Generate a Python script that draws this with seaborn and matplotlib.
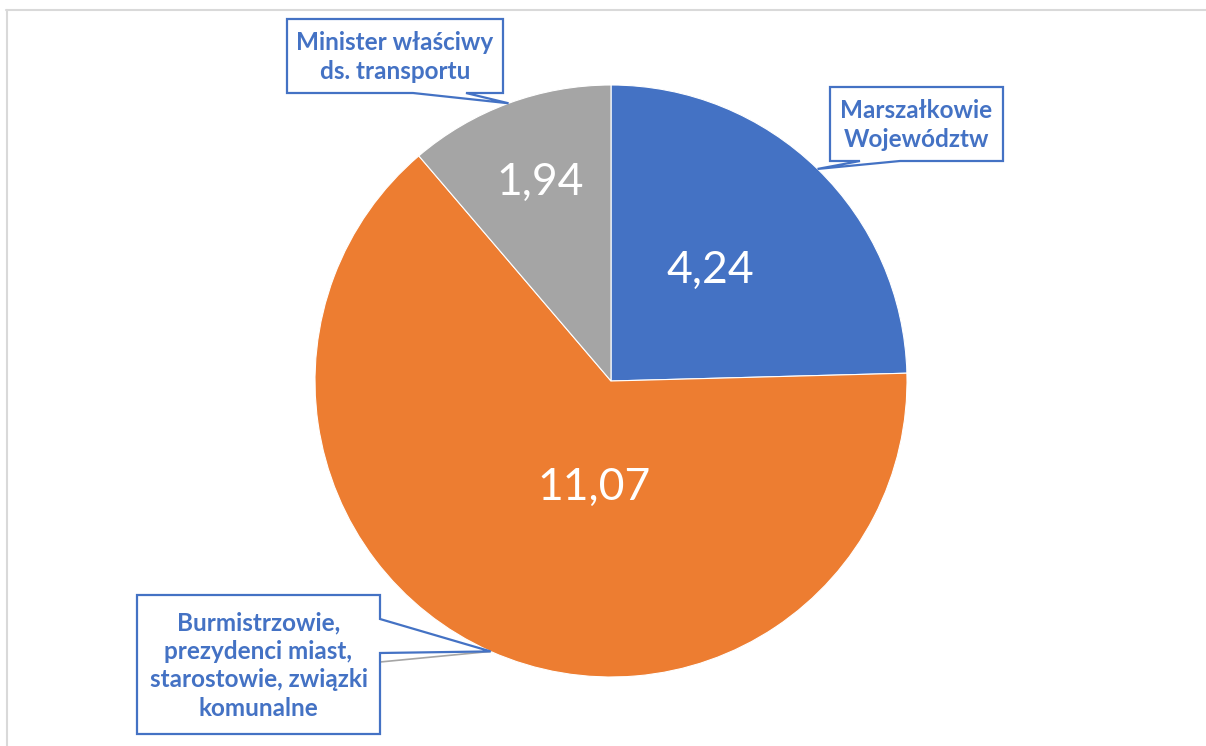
import numpy as np
import matplotlib
matplotlib.use("Agg")
import matplotlib.pyplot as plt
from matplotlib.patches import Polygon
from matplotlib.lines import Line2D
import seaborn as sns

# ---- data ----
categories = ["Marszałkowie\nWojewództw",
              "Burmistrzowie,\nprezydenci miast,\nstarostowie, związki\nkomunalne",
              "Minister właściwy\nds. transportu"]
values = [4.24, 11.07, 1.94]
colors = ["#4472C4", "#ED7D31", "#A5A5A5"]

sns.set_theme(style="white")
plt.rcParams['font.family'] = ['Lato', 'DejaVu Sans']

W, H = 1206, 746
fig = plt.figure(figsize=(W / 100, H / 100), dpi=100)
ax = fig.add_axes([0, 0, 1, 1])

def Y(y):
    return H - y

cx, cy, R = 611, 381, 296
wedges, _ = ax.pie(values, colors=colors, startangle=90, counterclock=False,
                   center=(cx, Y(cy)), radius=R,
                   wedgeprops=dict(edgecolor="white", linewidth=0.8))
ax.set_xlim(0, W)
ax.set_ylim(0, H)
ax.set_aspect("equal")
ax.axis("off")

# value labels (pixel positions of label centres)
value_pos = [(710, 270), (594, 487), (540, 182)]
for v, (x, y) in zip(values, value_pos):
    ax.text(x, Y(y), f"{v:.2f}".replace(".", ","), color="white",
            fontsize=32, ha="center", va="center")

# callout boxes: (left, top, right, bottom) in pixels, pointer base on side
boxes = [
    dict(box=(830, 87, 1003, 161), side="bottom", base=(860, 900)),
    dict(box=(137, 595, 380, 734), side="right", base=(619, 653)),
    dict(box=(287, 19, 503, 93), side="bottom", base=(413, 466)),
]
blue = "#4472C4"
for w, lab, b in zip(wedges, categories, boxes):
    mid = np.deg2rad((w.theta1 + w.theta2) / 2)
    tx = cx + R * np.cos(mid)
    ty = cy - R * np.sin(mid)
    l, t, r, bt = b["box"]
    b0, b1 = b["base"]
    if b["side"] == "bottom":
        pts = [(l, t), (r, t), (r, bt), (b1, bt), (tx, ty), (b0, bt), (l, bt)]
    else:
        pts = [(l, t), (r, t), (r, b0), (tx, ty), (r, b1), (r, bt), (l, bt)]
        ax.add_line(Line2D([r, tx], [Y(bt - 72), Y(ty)], color="#A5A5A5",
                           lw=1.2, zorder=4))
    poly = Polygon([(px, Y(py)) for px, py in pts], closed=True,
                   facecolor="white", edgecolor=blue, lw=1.6, zorder=5)
    ax.add_patch(poly)
    ax.text((l + r) / 2, Y((t + bt) / 2 + 1), lab, color=blue, fontsize=17.5,
            fontweight="bold", ha="center", va="center", linespacing=1.3,
            zorder=6)

# outer frame (top and left)
fig.add_artist(Line2D([6 / W, 1], [1 - 9.5 / H, 1 - 9.5 / H],
                      transform=fig.transFigure, color="#D9D9D9", lw=1.5))
fig.add_artist(Line2D([6.5 / W, 6.5 / W], [0, 1 - 9.5 / H],
                      transform=fig.transFigure, color="#D9D9D9", lw=1.5))

fig.savefig("out.png", dpi=100, facecolor="white")
